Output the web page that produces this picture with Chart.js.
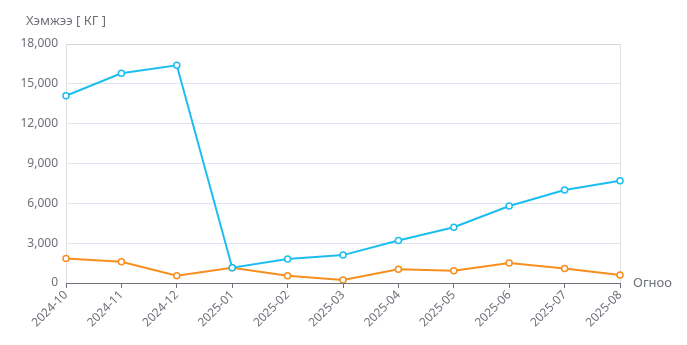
<!DOCTYPE html>
<html>
<head>
<meta charset="utf-8">
<script src="https://cdn.jsdelivr.net/npm/chart.js@4/dist/chart.umd.min.js"></script>
<style>
    html, body { margin: 0; padding: 0; background: #fff; }
    #wrap { width: 687px; height: 345px; position: relative; }
</style>
</head>
<body>
<div id="wrap"><canvas id="amountChart"></canvas></div>
<script>
// Months on the x axis
const months = ['2024-10', '2024-11', '2024-12', '2025-01', '2025-02', '2025-03',
                '2025-04', '2025-05', '2025-06', '2025-07', '2025-08'];

// Amounts in kg
const blueSeries = [14100, 15800, 16400, 1150, 1800, 2100, 3200, 4200, 5800, 7000, 7700];
const orangeSeries = [1850, 1600, 550, 1150, 550, 230, 1030, 930, 1500, 1100, 600];

// Y axis ticks
const yMin = 0;
const yMax = 18000;
const yStep = 3000;

const yAxisName = 'Хэмжээ [ КГ ]';
const xAxisName = 'Огноо';

const labelColor = '#6e7079';
const fontFamily = '"Noto Sans", "DejaVu Sans", sans-serif';

// Axis names drawn like echarts: y name above the axis, x name after its end
const axisNames = {
    id: 'axisNames',
    afterDraw(chart) {
        const ctx = chart.ctx;
        const area = chart.chartArea;
        ctx.save();
        ctx.fillStyle = labelColor;
        ctx.font = '13px ' + fontFamily;
        ctx.textBaseline = 'middle';
        ctx.textAlign = 'center';
        ctx.fillText(yAxisName, area.left, 21);
        ctx.textAlign = 'left';
        ctx.fillText(xAxisName, area.right + 13, area.bottom);
        ctx.restore();
    }
};

const lastIndex = months.length - 1;

const amountCtx = document.getElementById('amountChart').getContext('2d');
const amountChart = new Chart(amountCtx, {
    type: 'line',
    data: {
        labels: months,
        datasets: [
            {
                data: blueSeries,
                borderColor: '#1cbef0',
                backgroundColor: '#ffffff',
                borderWidth: 2,
                pointRadius: 3,
                pointBorderWidth: 1.5,
                pointBackgroundColor: '#ffffff',
                tension: 0
            },
            {
                data: orangeSeries,
                borderColor: '#f78f1e',
                backgroundColor: '#ffffff',
                borderWidth: 2,
                pointRadius: 3,
                pointBorderWidth: 1.5,
                pointBackgroundColor: '#ffffff',
                tension: 0
            }
        ]
    },
    options: {
        responsive: true,
        maintainAspectRatio: false,
        animation: false,
        layout: {
            padding: { top: 44, right: 67, left: 0, bottom: 0 }
        },
        plugins: {
            legend: { display: false },
            tooltip: { enabled: false }
        },
        scales: {
            x: {
                offset: false,
                afterFit: (scale) => { scale.height = 62; },
                grid: {
                    color: (c) => (c.index === 0 || c.index === lastIndex) ? '#e0e0e0' : 'rgba(0,0,0,0)',
                    tickColor: labelColor,
                    tickLength: 5,
                    drawOnChartArea: true
                },
                border: { color: labelColor, width: 1 },
                ticks: {
                    color: labelColor,
                    font: { family: fontFamily, size: 12 },
                    maxRotation: 45,
                    minRotation: 45,
                    autoSkip: false,
                    padding: 0
                }
            },
            y: {
                min: yMin,
                max: yMax,
                afterFit: (scale) => { scale.width = 66; },
                grid: {
                    color: (c) => c.tick.value === yMax ? '#d6d6d6' : '#e0e6f1',
                    drawTicks: false
                },
                border: { display: false },
                ticks: {
                    stepSize: yStep,
                    color: labelColor,
                    font: { family: fontFamily, size: 12 },
                    padding: 8,
                    callback: (v) => v.toLocaleString('en-US')
                }
            }
        }
    },
    plugins: [axisNames]
});
</script>
</body>
</html>
